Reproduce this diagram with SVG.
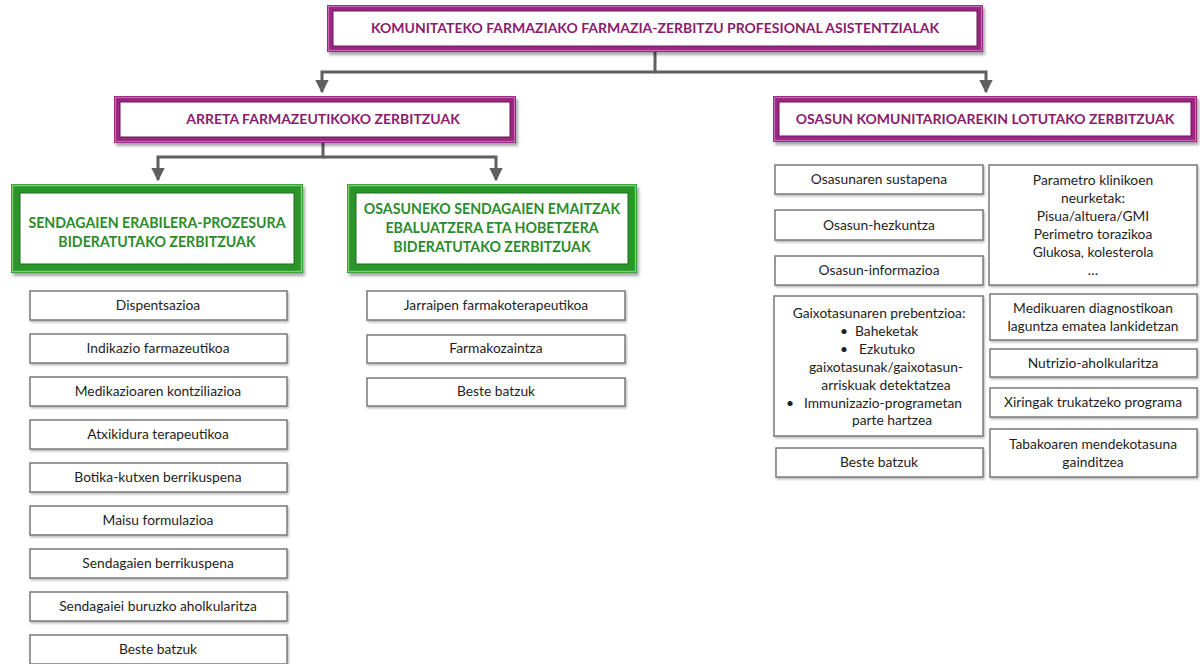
<svg xmlns="http://www.w3.org/2000/svg" width="1200" height="664" viewBox="0 0 1200 664">
<defs>
<filter id="sh" x="-5%" y="-20%" width="110%" height="150%">
<feDropShadow dx="2" dy="3" stdDeviation="1.5" flood-color="#000" flood-opacity="0.35"/>
</filter>
<filter id="sh2" x="-5%" y="-20%" width="110%" height="150%">
<feDropShadow dx="1" dy="1.5" stdDeviation="0.8" flood-color="#000" flood-opacity="0.3"/>
</filter>
<marker id="arr" viewBox="0 0 10 10" refX="9" refY="5" markerWidth="4.5" markerHeight="4.5" orient="auto">
<path d="M0,0 L10,5 L0,10 z" fill="#5f5f5f"/>
</marker>
</defs>
<style>
.pf{fill:#9a2582;filter:url(#sh)}
.ph{fill:none;stroke:#c967b0;stroke-width:1.2}
.pi{fill:#fff;stroke:#6e1560;stroke-width:1}
.gf{fill:#2a962a;filter:url(#sh)}
.gh{fill:none;stroke:#6fd46f;stroke-width:1.5}
.gi{fill:#fff;stroke:#1b6e1b;stroke-width:1}
.bx{fill:#fff;stroke:#7a7a7a;stroke-width:1.5;filter:url(#sh2)}
.pt{font-family:Lato,"Open Sans",sans-serif;font-weight:bold;font-size:14px;fill:#8a1c6e;text-anchor:middle}
.gt{font-family:Lato,"Open Sans",sans-serif;font-weight:bold;font-size:14.2px;fill:#2c8c2c;text-anchor:middle}
.t{font-family:Lato,"Open Sans",sans-serif;font-size:13.8px;fill:#1e1e1e;text-anchor:middle}
.ts{font-family:Lato,"Open Sans",sans-serif;font-size:13.8px;fill:#1e1e1e}
.cn{fill:none;stroke:#5f5f5f;stroke-width:3}
</style>

<g id="connectors">
<path class="cn" d="M655,52 V72 H322 V92" marker-end="url(#arr)"/>
<path class="cn" d="M655,72 H986 V92" marker-end="url(#arr)"/>
<path class="cn" d="M323,142 V157 H158 V180" marker-end="url(#arr)"/>
<path class="cn" d="M323,157 H496 V180" marker-end="url(#arr)"/>
</g>

<g id="n-top">
<rect class="pf" x="327" y="5" width="656" height="47"/>
<rect class="ph" x="328.5" y="6.5" width="653" height="44"/>
<rect class="pi" x="333" y="11" width="644" height="35"/>
<text class="pt" x="655" y="33">KOMUNITATEKO FARMAZIAKO FARMAZIA-ZERBITZU PROFESIONAL ASISTENTZIALAK</text>
</g>

<g id="n-arreta">
<rect class="pf" x="114" y="96" width="402" height="47"/>
<rect class="ph" x="115.5" y="97.5" width="399" height="44"/>
<rect class="pi" x="120" y="102" width="390" height="35"/>
<text class="pt" x="323" y="124">ARRETA FARMAZEUTIKOKO ZERBITZUAK</text>
</g>

<g id="n-osasun">
<rect class="pf" x="773" y="96" width="424" height="46"/>
<rect class="ph" x="774.5" y="97.5" width="421" height="43"/>
<rect class="pi" x="779" y="102" width="412" height="34"/>
<text class="pt" x="985" y="124">OSASUN KOMUNITARIOAREKIN LOTUTAKO ZERBITZUAK</text>
</g>

<g id="n-sendagaien">
<rect class="gf" x="11" y="184" width="292" height="89"/>
<rect class="gh" x="12.5" y="185.5" width="289" height="86"/>
<rect class="gi" x="20" y="193" width="274" height="71"/>
<text class="gt" x="157" y="228">SENDAGAIEN ERABILERA-PROZESURA</text>
<text class="gt" x="157" y="247">BIDERATUTAKO ZERBITZUAK</text>
</g>

<g id="n-emaitzak">
<rect class="gf" x="347" y="184" width="290" height="89"/>
<rect class="gh" x="348.5" y="185.5" width="287" height="86"/>
<rect class="gi" x="356" y="193" width="272" height="71"/>
<text class="gt" x="492" y="214">OSASUNEKO SENDAGAIEN EMAITZAK</text>
<text class="gt" x="492" y="233">EBALUATZERA ETA HOBETZERA</text>
<text class="gt" x="492" y="252">BIDERATUTAKO ZERBITZUAK</text>
</g>

<g id="n-l1"><rect class="bx" x="30" y="291" width="257" height="29"/><text class="t" x="158" y="310">Dispentsazioa</text></g>
<g id="n-l2"><rect class="bx" x="30" y="334" width="257" height="29"/><text class="t" x="158" y="353">Indikazio farmazeutikoa</text></g>
<g id="n-l3"><rect class="bx" x="30" y="377" width="257" height="29"/><text class="t" x="158" y="396">Medikazioaren kontziliazioa</text></g>
<g id="n-l4"><rect class="bx" x="30" y="420" width="257" height="29"/><text class="t" x="158" y="439">Atxikidura terapeutikoa</text></g>
<g id="n-l5"><rect class="bx" x="30" y="463" width="257" height="29"/><text class="t" x="158" y="482">Botika-kutxen berrikuspena</text></g>
<g id="n-l6"><rect class="bx" x="30" y="506" width="257" height="29"/><text class="t" x="158" y="525">Maisu formulazioa</text></g>
<g id="n-l7"><rect class="bx" x="30" y="549" width="257" height="29"/><text class="t" x="158" y="568">Sendagaien berrikuspena</text></g>
<g id="n-l8"><rect class="bx" x="30" y="592" width="257" height="29"/><text class="t" x="158" y="611">Sendagaiei buruzko aholkularitza</text></g>
<g id="n-l9"><rect class="bx" x="30" y="635" width="257" height="29"/><text class="t" x="158" y="654">Beste batzuk</text></g>

<g id="n-m1"><rect class="bx" x="367" y="291" width="258" height="29"/><text class="t" x="496" y="310">Jarraipen farmakoterapeutikoa</text></g>
<g id="n-m2"><rect class="bx" x="367" y="335" width="258" height="28"/><text class="t" x="496" y="353">Farmakozaintza</text></g>
<g id="n-m3"><rect class="bx" x="367" y="378" width="258" height="28"/><text class="t" x="496" y="396">Beste batzuk</text></g>

<g id="n-r1"><rect class="bx" x="775" y="165" width="208" height="29"/><text class="t" x="879" y="184">Osasunaren sustapena</text></g>
<g id="n-r2"><rect class="bx" x="775" y="210" width="208" height="30"/><text class="t" x="879" y="230">Osasun-hezkuntza</text></g>
<g id="n-r3"><rect class="bx" x="775" y="256" width="208" height="29"/><text class="t" x="879" y="275">Osasun-informazioa</text></g>

<g id="n-param">
<rect class="bx" x="989" y="165" width="208" height="120"/>
<text class="t" x="1093" y="185">Parametro klinikoen</text>
<text class="t" x="1093" y="203">neurketak:</text>
<text class="t" x="1093" y="221">Pisua/altuera/GMI</text>
<text class="t" x="1093" y="239">Perimetro torazikoa</text>
<text class="t" x="1093" y="257">Glukosa, kolesterola</text>
<text class="t" x="1093" y="275">…</text>
</g>

<g id="n-gaixo">
<rect class="bx" x="774" y="296" width="209" height="140"/>
<text class="t" x="879" y="318">Gaixotasunaren prebentzioa:</text>
<text class="ts" x="840" y="336">•</text><text class="ts" x="855" y="336">Baheketak</text>
<text class="ts" x="840" y="354">•</text><text class="ts" x="859" y="354">Ezkutuko</text>
<text class="t" x="886" y="372">gaixotasunak/gaixotasun-</text>
<text class="t" x="886" y="390">arriskuak detektatzea</text>
<text class="ts" x="786" y="408">•</text><text class="ts" x="804" y="408">Immunizazio-programetan</text>
<text class="t" x="892" y="425">parte hartzea</text>
</g>

<g id="n-beste-r"><rect class="bx" x="776" y="448" width="207" height="29"/><text class="t" x="879" y="467">Beste batzuk</text></g>

<g id="n-mediku">
<rect class="bx" x="990" y="294" width="207" height="46"/>
<text class="t" x="1093" y="313">Medikuaren diagnostikoan</text>
<text class="t" x="1093" y="331">laguntza ematea lankidetzan</text>
</g>
<g id="n-nutri"><rect class="bx" x="990" y="349" width="207" height="28"/><text class="t" x="1093" y="368">Nutrizio-aholkularitza</text></g>
<g id="n-xiring"><rect class="bx" x="990" y="388" width="207" height="29"/><text class="t" x="1093" y="407">Xiringak trukatzeko programa</text></g>
<g id="n-tabako">
<rect class="bx" x="990" y="429" width="207" height="48"/>
<text class="t" x="1093" y="449">Tabakoaren mendekotasuna</text>
<text class="t" x="1093" y="467">gainditzea</text>
</g>
</svg>
